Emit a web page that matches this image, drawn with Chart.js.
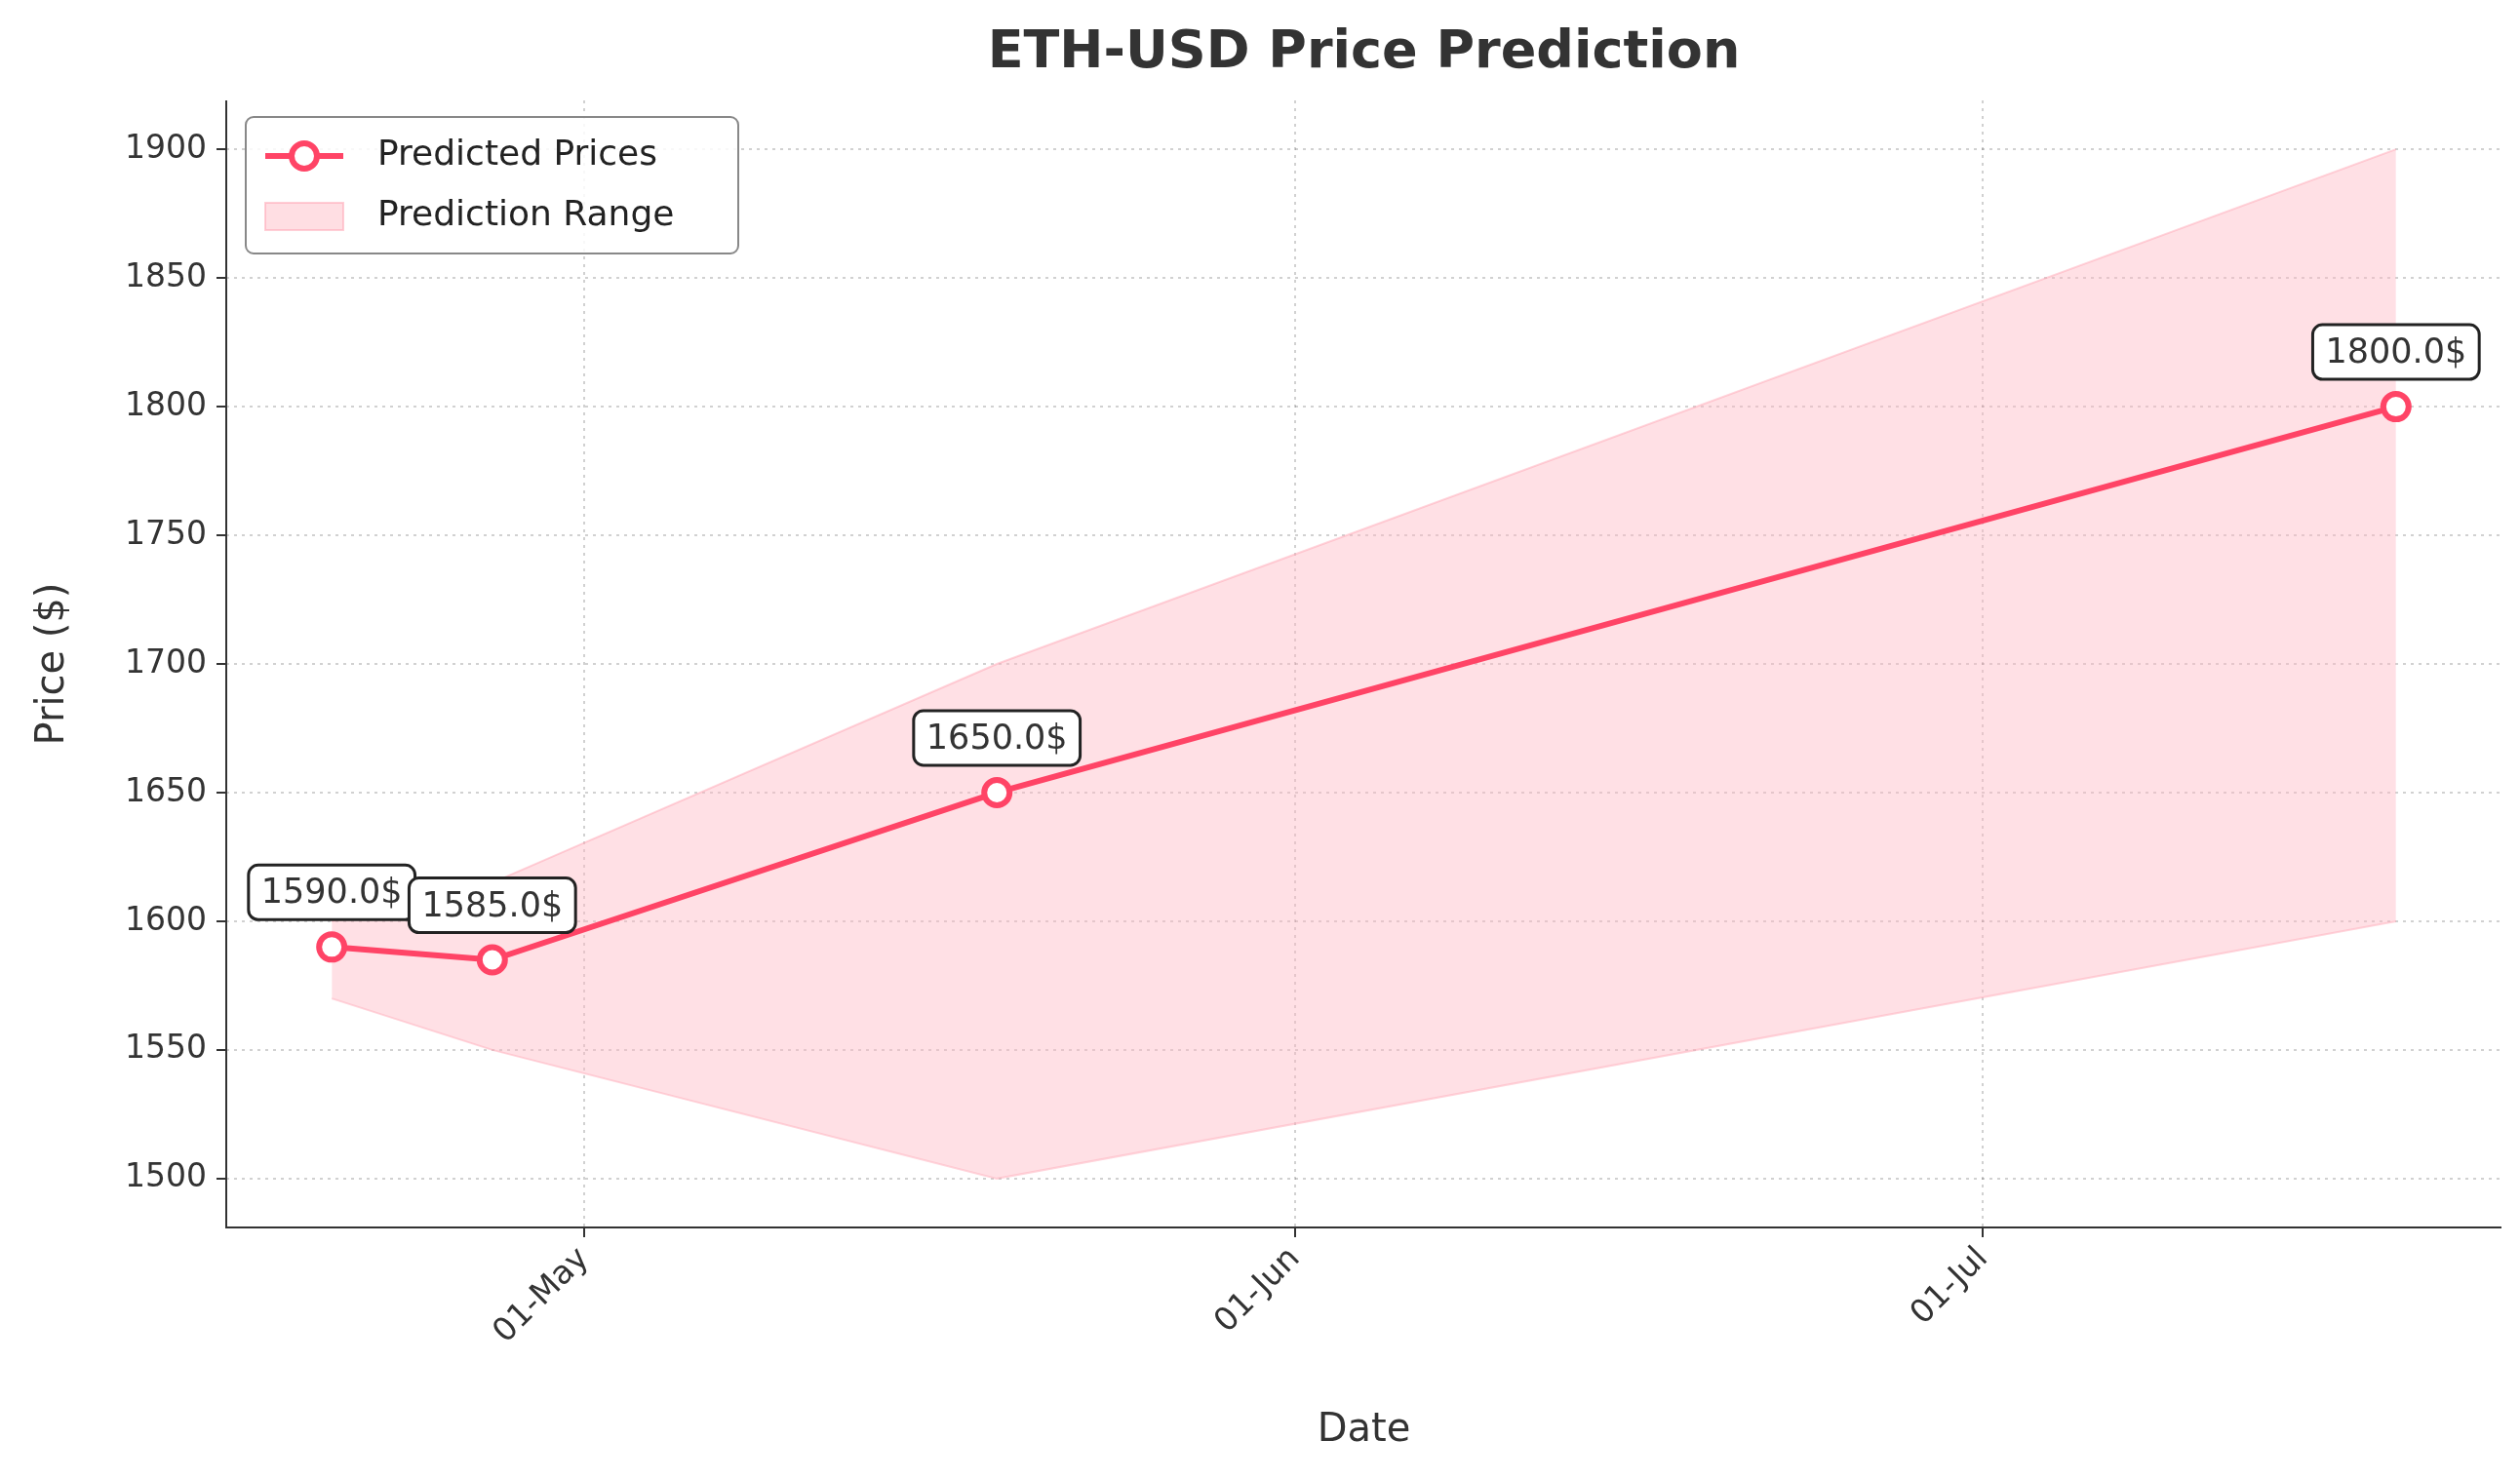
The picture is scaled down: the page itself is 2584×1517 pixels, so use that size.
<!DOCTYPE html>
<html lang="en">
<head>
<meta charset="UTF-8">
<title>ETH-USD Price Prediction</title>
<style>
    body { margin: 0; padding: 0; background: #fff; }
    #wrap { width: 2584px; height: 1517px; }
</style>
</head>
<body>
<div id="wrap"><canvas id="chart" width="2584" height="1517"></canvas></div>
<script src="https://cdn.jsdelivr.net/npm/chart.js"></script>
<script>
// day of year (2023): Apr 20 = 110, May 1 = 121, Jun 1 = 152, Jul 1 = 182
var dates = [110, 117, 139, 200];
var predicted = [1590, 1585, 1650, 1800];
var lower = [1570, 1550, 1500, 1600];
var upper = [1600, 1615, 1700, 1900];
var tickDays = [121, 152, 182];
var tickLabels = ['01-May', '01-Jun', '01-Jul'];
var yTicks = [1500, 1550, 1600, 1650, 1700, 1750, 1800, 1850, 1900];

var lineColor = '#ff4466';
var font = 'DejaVu Sans';

function pts(vals) {
    return vals.map(function(v, i) { return {x: dates[i], y: v}; });
}

var extras = {
    id: 'extras',
    afterDraw: function(chart) {
        var ctx = chart.ctx, a = chart.chartArea;
        ctx.save();
        // title
        ctx.fillStyle = '#333';
        ctx.font = 'bold 54px ' + font;
        ctx.textAlign = 'center';
        ctx.textBaseline = 'middle';
        ctx.fillText('ETH-USD Price Prediction', (a.left + a.right) / 2, 55);
        // axis titles
        ctx.font = '40px ' + font;
        ctx.fillText('Date', (a.left + a.right) / 2, 1468);
        ctx.save();
        ctx.translate(55, (a.top + a.bottom) / 2);
        ctx.rotate(-Math.PI / 2);
        ctx.fillText('Price ($)', 0, 0);
        ctx.restore();
        // spines
        ctx.strokeStyle = '#333';
        ctx.lineWidth = 2;
        ctx.beginPath();
        ctx.moveTo(a.left, a.top); ctx.lineTo(a.left, a.bottom); ctx.lineTo(a.right, a.bottom);
        ctx.stroke();
        // annotations
        var xs = chart.scales.x, ys = chart.scales.y;
        ctx.font = '35px ' + font;
        predicted.forEach(function(v, i) {
            var px = xs.getPixelForValue(dates[i]), py = ys.getPixelForValue(v) - 56;
            var t = v.toFixed(1) + '$';
            var w = ctx.measureText(t).width + 26, h = 56;
            ctx.beginPath();
            ctx.roundRect(px - w / 2, py - h / 2, w, h, 10);
            ctx.fillStyle = '#fff'; ctx.fill();
            ctx.strokeStyle = '#222'; ctx.lineWidth = 3; ctx.stroke();
            ctx.fillStyle = '#333';
            ctx.fillText(t, px, py + 2);
        });
        // legend
        var lx = a.left + 20, ly = a.top + 17, lw = 505, lh = 140;
        ctx.beginPath();
        ctx.roundRect(lx, ly, lw, lh, 8);
        ctx.fillStyle = 'rgba(255,255,255,0.85)'; ctx.fill();
        ctx.strokeStyle = '#888'; ctx.lineWidth = 2; ctx.stroke();
        ctx.strokeStyle = lineColor; ctx.lineWidth = 6;
        ctx.beginPath(); ctx.moveTo(lx + 20, ly + 40); ctx.lineTo(lx + 100, ly + 40); ctx.stroke();
        ctx.beginPath(); ctx.arc(lx + 60, ly + 40, 13, 0, Math.PI * 2);
        ctx.fillStyle = '#fff'; ctx.fill(); ctx.stroke();
        ctx.fillStyle = 'rgba(255,182,193,0.45)';
        ctx.fillRect(lx + 20, ly + 88, 80, 28);
        ctx.strokeStyle = 'rgba(255,160,175,0.5)'; ctx.lineWidth = 2;
        ctx.strokeRect(lx + 20, ly + 88, 80, 28);
        ctx.fillStyle = '#222'; ctx.textAlign = 'left';
        ctx.font = '36px ' + font;
        ctx.fillText('Predicted Prices', lx + 135, ly + 40);
        ctx.fillText('Prediction Range', lx + 135, ly + 102);
        ctx.restore();
    }
};

new Chart(document.getElementById('chart'), {
    type: 'line',
    data: {
        datasets: [
            { label: 'Upper', data: pts(upper), borderColor: 'rgba(255,160,175,0.45)', borderWidth: 2,
              backgroundColor: 'rgba(255,182,193,0.42)', fill: 1, pointRadius: 0, tension: 0, order: 2 },
            { label: 'Lower', data: pts(lower), borderColor: 'rgba(255,160,175,0.45)', borderWidth: 2,
              pointRadius: 0, fill: false, tension: 0, order: 3 },
            { label: 'Predicted Prices', data: pts(predicted), borderColor: lineColor, borderWidth: 6,
              pointRadius: 13, pointBorderWidth: 6, pointBackgroundColor: '#fff', pointBorderColor: lineColor,
              fill: false, tension: 0, order: 1 }
        ]
    },
    options: {
        responsive: false,
        animation: false,
        devicePixelRatio: 1,
        layout: { padding: { top: 103, right: 17, left: 0, bottom: 0 } },
        plugins: { legend: { display: false }, tooltip: { enabled: false } },
        scales: {
            x: {
                type: 'linear', min: 105.4, max: 204.6,
                afterFit: function(s) { s.height = 258; },
                afterBuildTicks: function(s) { s.ticks = tickDays.map(function(v) { return {value: v}; }); },
                ticks: {
                    maxRotation: 45, minRotation: 45, color: '#333', font: { family: font, size: 33 },
                    callback: function(v) { return tickLabels[tickDays.indexOf(v)]; }
                },
                grid: { color: 'rgba(0,0,0,0.18)', lineWidth: 2, tickColor: '#333', tickLength: 10 },
                border: { display: false, dash: [3, 5] }
            },
            y: {
                min: 1481, max: 1919,
                afterFit: function(s) { s.width = 232; },
                afterBuildTicks: function(s) { s.ticks = yTicks.map(function(v) { return {value: v}; }); },
                ticks: { color: '#333', font: { family: font, size: 33 }, padding: 10,
                         callback: function(v) { return String(v); } },
                grid: { color: 'rgba(0,0,0,0.18)', lineWidth: 2, tickColor: '#333', tickLength: 10 },
                border: { display: false, dash: [3, 5] }
            }
        }
    },
    plugins: [extras]
});
</script>
</body>
</html>
